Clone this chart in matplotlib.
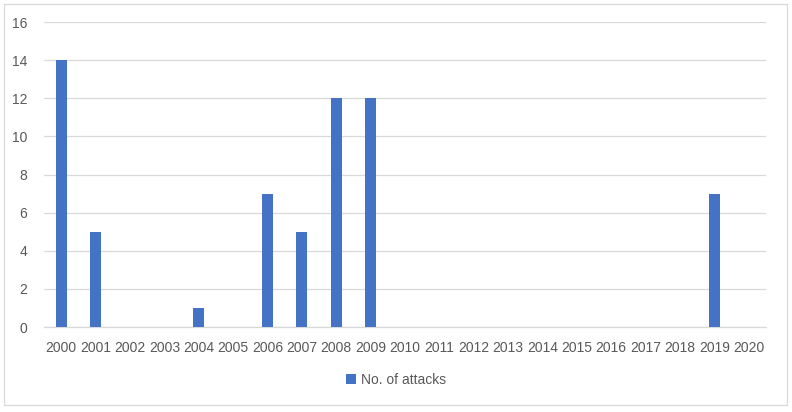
import matplotlib.pyplot as plt
from matplotlib.patches import Rectangle
import numpy as np

years = [str(y) for y in range(2000, 2021)]
attacks = [14, 5, 0, 0, 1, 0, 7, 5, 12, 12, 0, 0, 0, 0, 0, 0, 0, 0, 0, 7, 0]
series_name = 'No. of attacks'
yticks = [0, 2, 4, 6, 8, 10, 12, 14, 16]

bar_color = '#4472C4'
grid_color = '#D9D9D9'
text_color = '#595959'

plt.rcParams['font.family'] = ['Liberation Sans', 'DejaVu Sans']

fig = plt.figure(figsize=(7.92, 4.12), dpi=100)
ax = fig.add_axes([0.0556, 0.2063, 0.9115, 0.7403])

x = np.arange(len(years))
ax.bar(x, attacks, width=0.32, color=bar_color, label=series_name, zorder=3)

ax.set_xlim(-0.5, len(years) - 0.5)
ax.set_ylim(0, 16)
ax.set_yticks(yticks)
ax.set_xticks(x)
ax.set_xticklabels(years)

ax.yaxis.grid(True, color=grid_color, linewidth=0.9, zorder=0)
ax.set_axisbelow(True)
for side in ['top', 'right', 'left']:
    ax.spines[side].set_visible(False)
ax.spines['bottom'].set_color(grid_color)
ax.spines['bottom'].set_linewidth(0.9)

ax.tick_params(axis='both', length=0, labelsize=10, colors=text_color)
ax.tick_params(axis='x', pad=10)
ax.tick_params(axis='y', pad=12)

leg = fig.legend(loc='center', bbox_to_anchor=(0.5, 0.078), frameon=False,
                 fontsize=10, handlelength=0.7, handleheight=0.7, handletextpad=0.4)
for t in leg.get_texts():
    t.set_color(text_color)

# chart border
fig.patches.append(Rectangle((4 / 792, 7 / 412), 783 / 792, 401 / 412, transform=fig.transFigure,
                             fill=False, edgecolor=grid_color, linewidth=0.9))

fig.savefig('out.png', dpi=100)
